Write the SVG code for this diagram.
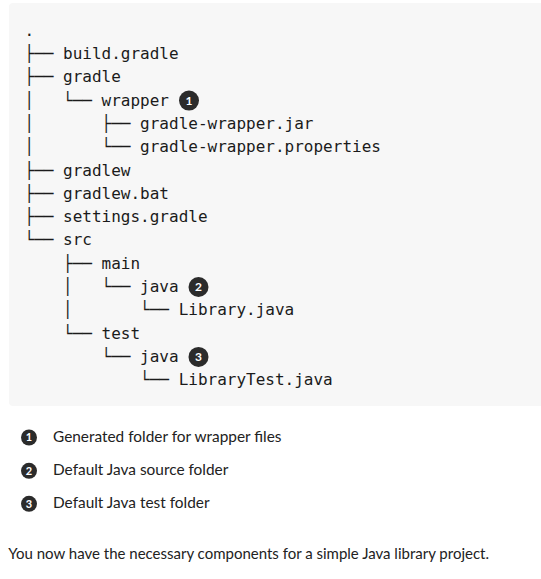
<svg xmlns="http://www.w3.org/2000/svg" width="541" height="579" viewBox="0 0 541 579">
<style>
.bg{fill:#f7f7f7}
.t{font-family:"DejaVu Sans Mono",monospace;font-size:16px;fill:#1b1b1b;white-space:pre}
.co{fill:#2b2b2b}
.cn{font-family:"Lato","Liberation Sans",sans-serif;font-weight:bold;fill:#ffffff;text-anchor:middle}
.p{font-family:"Lato","Liberation Sans",sans-serif;font-size:15.4px;fill:#222222}
.n{font-family:"Lato","Liberation Sans",sans-serif;font-size:15px;fill:#222222}
</style>
<rect class="bg" x="9" y="3" width="540" height="403" rx="4"/>
<g id="tree">
<text class="t" x="24.5" y="35.7" xml:space="preserve">.</text>
<text class="t" x="24.5" y="59" xml:space="preserve">├── build.gradle</text>
<text class="t" x="24.5" y="82.3" xml:space="preserve">├── gradle</text>
<text class="t" x="24.5" y="105.6" xml:space="preserve">│   └── wrapper</text>
<text class="t" x="24.5" y="128.9" xml:space="preserve">│       ├── gradle-wrapper.jar</text>
<text class="t" x="24.5" y="152.2" xml:space="preserve">│       └── gradle-wrapper.properties</text>
<text class="t" x="24.5" y="175.5" xml:space="preserve">├── gradlew</text>
<text class="t" x="24.5" y="198.8" xml:space="preserve">├── gradlew.bat</text>
<text class="t" x="24.5" y="222.1" xml:space="preserve">├── settings.gradle</text>
<text class="t" x="24.5" y="245.4" xml:space="preserve">└── src</text>
<text class="t" x="24.5" y="268.7" xml:space="preserve">    ├── main</text>
<text class="t" x="24.5" y="292" xml:space="preserve">    │   └── java</text>
<text class="t" x="24.5" y="315.3" xml:space="preserve">    │       └── Library.java</text>
<text class="t" x="24.5" y="338.6" xml:space="preserve">    └── test</text>
<text class="t" x="24.5" y="361.9" xml:space="preserve">        └── java</text>
<text class="t" x="24.5" y="385.2" xml:space="preserve">            └── LibraryTest.java</text>
</g>
<g id="callout1">
<circle class="co" cx="189" cy="100.6" r="10"/>
<text class="cn" x="189" y="105" font-size="12">1</text>
</g>
<g id="callout2">
<circle class="co" cx="198.5" cy="287" r="10"/>
<text class="cn" x="198.5" y="291.4" font-size="12">2</text>
</g>
<g id="callout3">
<circle class="co" cx="198.5" cy="356.9" r="10"/>
<text class="cn" x="198.5" y="361.3" font-size="12">3</text>
</g>
<g id="legend1">
<circle class="co" cx="29" cy="437.5" r="8"/>
<text class="cn" x="29" y="441.4" font-size="11">1</text>
<text class="p" x="53" y="441.5">Generated folder for wrapper files</text>
</g>
<g id="legend2">
<circle class="co" cx="29" cy="470.8" r="8"/>
<text class="cn" x="29" y="474.7" font-size="11">2</text>
<text class="p" x="53" y="475">Default Java source folder</text>
</g>
<g id="legend3">
<circle class="co" cx="29" cy="503.8" r="8"/>
<text class="cn" x="29" y="507.7" font-size="11">3</text>
<text class="p" x="53" y="508">Default Java test folder</text>
</g>
<g id="note">
<text class="n" x="8.3" y="559">You now have the necessary components for a simple Java library project.</text>
</g>
</svg>
